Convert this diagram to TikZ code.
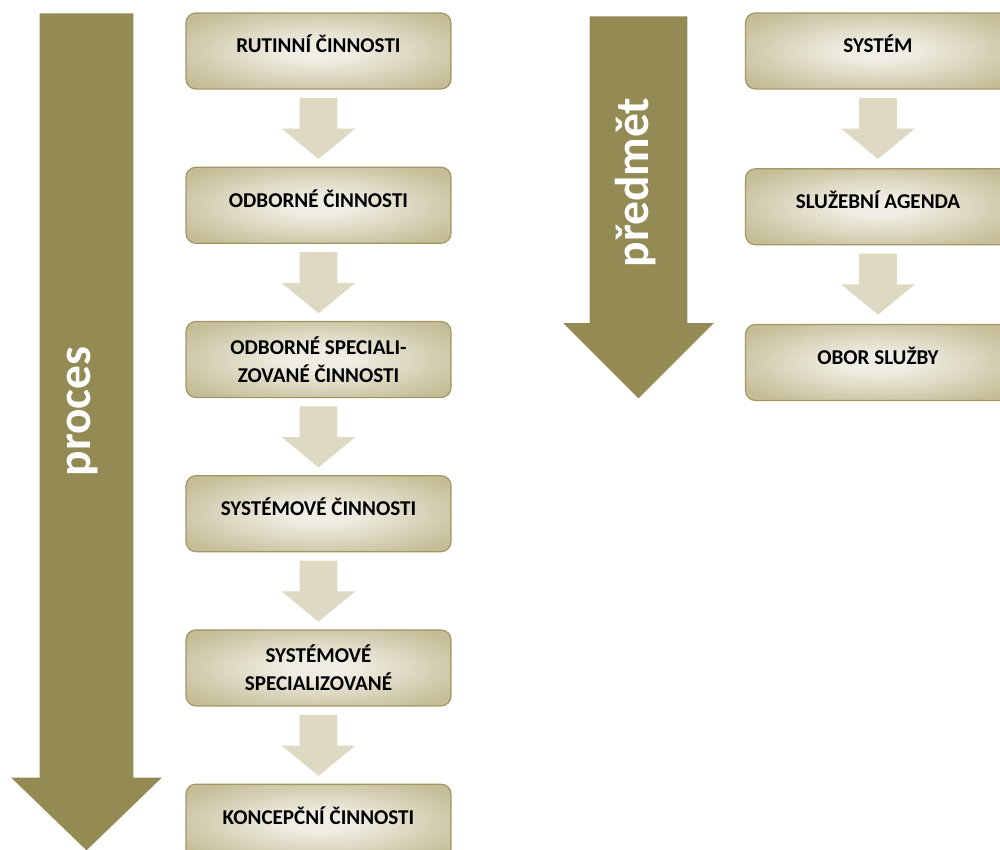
\documentclass[tikz,border=0pt]{standalone}
\usepackage{fontspec}
\setmainfont{Carlito}
\usetikzlibrary{positioning,shapes.arrows}
\definecolor{OliveDark}{RGB}{148,138,84}
\definecolor{BoxEdge}{RGB}{160,151,98}
\definecolor{BoxOuter}{RGB}{196,189,151}
\definecolor{BoxInner}{RGB}{240,238,228}
\definecolor{StepArrow}{RGB}{221,217,195}
\pgfdeclareradialshading{stageglow}{\pgfpoint{0bp}{0bp}}{%
  color(0bp)=(BoxInner); color(6bp)=(BoxInner);
  color(31bp)=(BoxOuter); color(50bp)=(BoxOuter)}

\tikzset{
  stage/.style={draw=BoxEdge, line width=0.7pt, rounded corners=0.2cm,
    shading=stageglow,
    minimum width=5.3cm, minimum height=1.52cm, align=center,
    font=\fontsize{12}{16}\selectfont\bfseries},
  oneline/.style={text depth=0.28cm},
  steparrow/.style={single arrow, shape border rotate=270, fill=StepArrow,
    minimum height=1.22cm, inner ysep=0pt, inner xsep=0.37cm,
    single arrow head extend=0.36cm, single arrow tip angle=101},
  bigarrow/.style={single arrow, shape border rotate=270, fill=OliveDark,
    inner ysep=0pt},
  bigword/.style={text=white, rotate=90, font=\fontsize{27}{31}\selectfont\bfseries}
}

\begin{document}
\begin{tikzpicture}
  \useasboundingbox (0,0) rectangle (20,-17);
  \clip (0,0) rectangle (20,-17);

  % big arrows
  \node[bigarrow, anchor=tail, minimum height=16.74cm, inner xsep=0.93cm,
    single arrow head extend=0.57cm, single arrow tip angle=92] (procesarrow) at (1.73,-0.26) {};
  \node[bigarrow, anchor=tail, minimum height=7.64cm, inner xsep=0.97cm,
    single arrow head extend=0.53cm, single arrow tip angle=90] (predmetarrow) at (12.77,-0.32) {};
  \node[bigword] (proces) at (1.65,-8.23) {proces};
  \node[bigword] (predmet) at (12.71,-3.65) {předmět};

  % process column
  \begin{scope}[node distance=1.54cm]
    \node[stage, oneline] (rutinni) at (6.37,-1.02) {RUTINNÍ ČINNOSTI};
    \node[stage, oneline, below=of rutinni] (odborne) {ODBORNÉ ČINNOSTI};
    \node[stage, below=of odborne] (specializovane) {ODBORNÉ SPECIALI-\\ZOVANÉ ČINNOSTI};
    \node[stage, oneline, below=of specializovane] (systemove) {SYSTÉMOVÉ ČINNOSTI};
    \node[stage, below=of systemove] (sysspec) {SYSTÉMOVÉ\\SPECIALIZOVANÉ};
    \node[stage, oneline, below=of sysspec] (koncepcni) {KONCEPČNÍ ČINNOSTI};
  \end{scope}

  % subject column
  \begin{scope}[node distance=1.57cm]
    \node[stage, oneline] (system) at (17.56,-1.02) {SYSTÉM};
    \node[stage, oneline, below=of system] (agenda) {SLUŽEBNÍ AGENDA};
    \node[stage, oneline, below=of agenda] (obor) {OBOR SLUŽBY};
  \end{scope}

  % step arrows
  \foreach \from in {rutinni,odborne,specializovane,systemove,sysspec,system,agenda}
    \node[steparrow, below=0.16cm of \from, anchor=tail] (step-\from) {};
\end{tikzpicture}
\end{document}
